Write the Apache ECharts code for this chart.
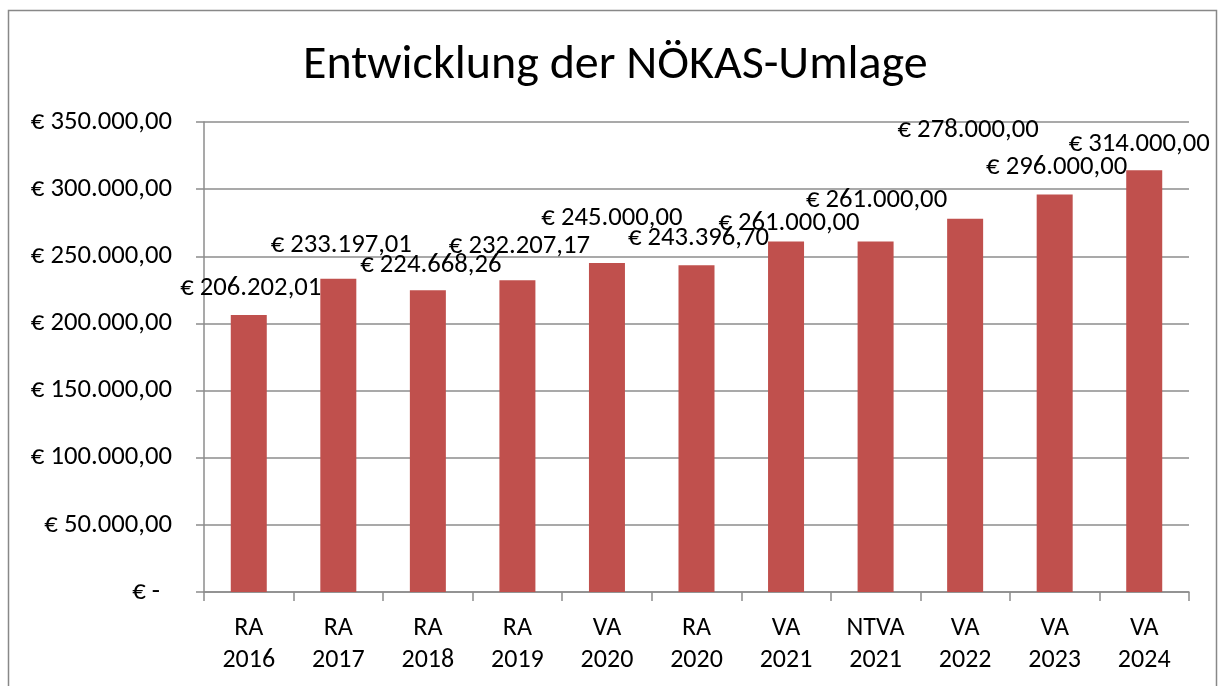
<!DOCTYPE html>
<html>
<head>
<meta charset="utf-8">
<script src="https://cdn.jsdelivr.net/npm/echarts@6/dist/echarts.min.js"></script>
<style>
  html, body { margin: 0; padding: 0; background: #fff; }
  #main { width: 1219px; height: 686px; }
</style>
</head>
<body>
<div id="main"></div>
<script>
// Daten
var categories = ['RA\n2016', 'RA\n2017', 'RA\n2018', 'RA\n2019', 'VA\n2020', 'RA\n2020',
  'VA\n2021', 'NTVA\n2021', 'VA\n2022', 'VA\n2023', 'VA\n2024'];
var umlage = [206202.01, 233197.01, 224668.26, 232207.17, 245000.00, 243396.70,
  261000.00, 261000.00, 278000.00, 296000.00, 314000.00];
var yMin = 0, yMax = 350000, yStep = 50000;

// Beschriftungen wie im Original leicht verschoben
var labelShift = [[2, -15], [3, -22], [3, -13], [2, -22], [5, -33], [2, -15],
  [3, -6], [1, -29], [3, -76], [2, -15], [-5, -14]];

var FONT = 'Carlito, Lato, sans-serif';
var FS = 26.7;

function fmtEuro(v) {
  var parts = v.toFixed(2).split('.');
  var ganz = parts[0].replace(/\B(?=(\d{3})+(?!\d))/g, '.');
  return '€ ' + ganz + ',' + parts[1];
}

var myChart = echarts.init(document.getElementById('main'));

var option = {
  backgroundColor: '#fff',
  animation: false,
  title: {
    text: 'Entwicklung der NÖKAS-Umlage',
    left: 298,
    top: 37,
    textStyle: {
      fontFamily: FONT,
      fontSize: 48,
      fontWeight: 'normal',
      color: '#000'
    }
  },
  // Rahmen um das Diagramm
  graphic: [{
    type: 'rect',
    shape: { x: 8.5, y: 10.5, width: 1208, height: 700 },
    style: { fill: 'none', stroke: '#888', lineWidth: 1.5 },
    silent: true
  }],
  grid: {
    left: 204,
    right: 30,
    top: 122,
    bottom: 94
  },
  xAxis: {
    type: 'category',
    data: categories,
    axisLine: { lineStyle: { color: '#8c8c8c', width: 1.5 } },
    axisTick: { show: true, length: 9, lineStyle: { color: '#8c8c8c', width: 1.5 } },
    axisLabel: {
      interval: 0,
      margin: 20,
      fontFamily: FONT,
      fontSize: 26,
      lineHeight: 32,
      color: '#000'
    }
  },
  yAxis: {
    type: 'value',
    min: yMin,
    max: yMax,
    interval: yStep,
    axisLine: { show: true, lineStyle: { color: '#8c8c8c', width: 1.5 } },
    axisTick: { show: true, length: 8, lineStyle: { color: '#8c8c8c', width: 1.5 } },
    splitLine: { lineStyle: { color: '#8c8c8c', width: 1.5 } },
    axisLabel: {
      margin: 32,
      fontFamily: FONT,
      fontSize: FS,
      color: '#000',
      formatter: function (v) {
        if (v === 0) return '{z|€ -}';
        return fmtEuro(v);
      },
      rich: {
        z: { fontFamily: FONT, fontSize: FS, color: '#000', padding: [0, 12, 0, 0] }
      }
    }
  },
  series: [{
    type: 'bar',
    barWidth: 36,
    itemStyle: { color: '#c0504d' },
    label: {
      show: true,
      position: 'top',
      distance: 0,
      fontFamily: FONT,
      fontSize: FS,
      lineHeight: 24,
      color: '#000',
      formatter: function (p) { return fmtEuro(p.value); }
    },
    data: umlage.map(function (v, i) {
      return { value: v, label: { offset: labelShift[i] } };
    })
  }]
};

myChart.setOption(option);
</script>
</body>
</html>
